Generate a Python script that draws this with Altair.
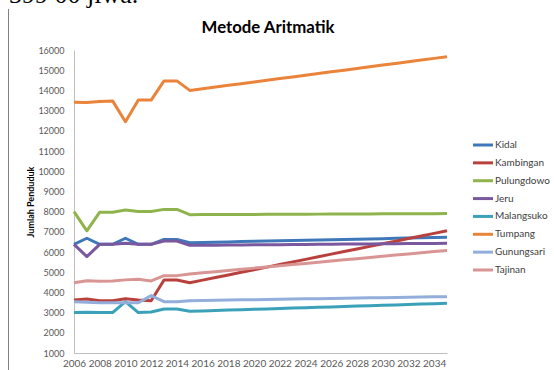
import altair as alt
import pandas as pd

# Projection years (arithmetic method) and village series
years = list(range(2006, 2036))
tick_years = list(range(2006, 2035, 2))
y_ticks = list(range(1000, 17000, 1000))

names = ["Kidal", "Kambingan", "Pulungdowo", "Jeru", "Malangsuko",
         "Tumpang", "Gunungsari", "Tajinan"]
colors = ["#3F78B8", "#B9413D", "#8FB44E", "#7A58A0", "#3AA1B9",
          "#E9843A", "#93AEDA", "#D99594"]

kidal = [6380, 6680, 6380, 6380, 6680, 6380, 6380, 6620, 6620, 6460,
         6474, 6487, 6500, 6514, 6528, 6541, 6554, 6568, 6582, 6595,
         6608, 6622, 6636, 6649, 6662, 6676, 6690, 6703, 6716, 6730]
kambingan = [3620, 3670, 3590, 3590, 3690, 3620, 3590, 4610, 4610, 4480,
             4608, 4736, 4866, 4994, 5122, 5250, 5380, 5508, 5636, 5764,
             5894, 6022, 6150, 6278, 6408, 6536, 6664, 6792, 6922, 7050]
pulungdowo = [8000, 7050, 7970, 7970, 8080, 8000, 8000, 8110, 8110, 7850,
              7852, 7855, 7858, 7860, 7862, 7865, 7868, 7870, 7872, 7875,
              7878, 7880, 7882, 7885, 7888, 7890, 7892, 7895, 7898, 7900]
jeru = [6380, 5770, 6380, 6380, 6430, 6380, 6380, 6540, 6540, 6330,
        6335, 6340, 6345, 6350, 6355, 6360, 6365, 6370, 6375, 6380,
        6385, 6390, 6395, 6400, 6405, 6410, 6415, 6420, 6425, 6430]
malangsuko = [3000, 3020, 3000, 3000, 3540, 3000, 3030, 3180, 3180, 3065,
              3085, 3104, 3124, 3144, 3164, 3184, 3203, 3223, 3243, 3262,
              3282, 3302, 3322, 3341, 3361, 3381, 3401, 3420, 3440, 3460]
tumpang = [13410, 13400, 13450, 13480, 12450, 13520, 13520, 14470, 14470, 14000,
           14084, 14167, 14250, 14334, 14418, 14501, 14584, 14668, 14752, 14835,
           14918, 15002, 15086, 15169, 15252, 15336, 15420, 15503, 15586, 15670]
gunungsari = [3540, 3510, 3490, 3490, 3490, 3490, 3840, 3540, 3540, 3590,
              3600, 3610, 3620, 3630, 3640, 3650, 3660, 3670, 3680, 3690,
              3700, 3710, 3720, 3730, 3740, 3750, 3760, 3770, 3780, 3790]
tajinan = [4480, 4580, 4550, 4570, 4620, 4650, 4565, 4830, 4830, 4910,
           4968, 5027, 5086, 5144, 5202, 5261, 5320, 5378, 5436, 5495,
           5554, 5612, 5670, 5729, 5788, 5846, 5904, 5963, 6022, 6080]

chart_title = ["Metode Aritmatik"]
note_text = ["399 00 jiwa."]

series = [kidal, kambingan, pulungdowo, jeru, malangsuko, tumpang, gunungsari, tajinan]
rows = []
for name, vals in zip(names, series):
    for yr, v in zip(years, vals):
        rows.append({"Tahun": yr, "Jumlah": v, "Desa": name})
df = pd.DataFrame(rows)
legend_df = pd.DataFrame({"Desa": names})
note_df = pd.DataFrame({"note": note_text})
title_df = pd.DataFrame({"judul": chart_title})

color_scale = alt.Scale(domain=names, range=colors)
label_font = "Lato"

lines = alt.Chart(df).mark_line(strokeWidth=3, strokeJoin="round").encode(
    x=alt.X("Tahun:Q",
            scale=alt.Scale(domain=[2006, 2035], nice=False, zero=False),
            axis=alt.Axis(values=tick_years, format="d", title=None, grid=False,
                          ticks=False, labelPadding=5, labelOverlap=False,
                          labelFlush=False, labelFont=label_font, labelFontSize=10,
                          labelColor="#595959", domainColor="#BFBFBF")),
    y=alt.Y("Jumlah:Q",
            scale=alt.Scale(domain=[1000, 16000], nice=False, zero=False),
            axis=alt.Axis(values=y_ticks, format="d", title="Jumlah Penduduk",
                          grid=False, ticks=False, labelPadding=10,
                          labelFont=label_font, labelFontSize=9,
                          labelColor="#595959", domainColor="#BFBFBF",
                          titleFont=label_font, titleFontSize=9,
                          titleFontWeight="bold", titleColor="#000000",
                          titleX=-44, titleY=151.5, titleAngle=270,
                          titleAlign="center", titleBaseline="middle")),
    color=alt.Color("Desa:N", scale=color_scale, legend=None),
)

legend_y = alt.Y("Desa:N",
                 scale=alt.Scale(type="point", domain=names, range=[95, 220], padding=0),
                 axis=None)

legend_rules = alt.Chart(legend_df).mark_rule(strokeWidth=3).encode(
    x=alt.value(399), x2=alt.value(419), y=legend_y,
    color=alt.Color("Desa:N", scale=color_scale, legend=None),
)

legend_text = alt.Chart(legend_df).mark_text(
    align="left", baseline="middle", font=label_font, fontSize=10, color="#404040"
).encode(x=alt.value(421), y=legend_y, text="Desa:N")

# Chart heading, placed above the plot area
heading = alt.Chart(title_df).mark_text(
    align="center", baseline="alphabetic", font=label_font, fontSize=16.8,
    fontWeight="bold", color="#000000"
).encode(x=alt.value(194), y=alt.value(-17), text="judul:N")

# Line of running text from the page above the chart
note = alt.Chart(note_df).mark_text(
    align="left", baseline="alphabetic", font="Liberation Serif", fontSize=26,
    color="#000000"
).encode(x=alt.value(-65), y=alt.value(-47.5), text="note:N")

page_edge = alt.Chart(note_df).mark_rule(color="#808080", strokeWidth=1).encode(
    x=alt.value(-65.5), y=alt.value(-41), y2=alt.value(320)
)

chart = alt.layer(lines, legend_rules, legend_text, heading, note, page_edge).resolve_scale(
    y="independent"
).properties(
    width=373,
    height=303,
    autosize=alt.AutoSizeParams(type="none"),
    padding={"left": 74, "top": 50, "right": 107, "bottom": 17},
).configure_view(stroke=None)

chart.save("out.html", embed_options={"renderer": "svg", "actions": False})
